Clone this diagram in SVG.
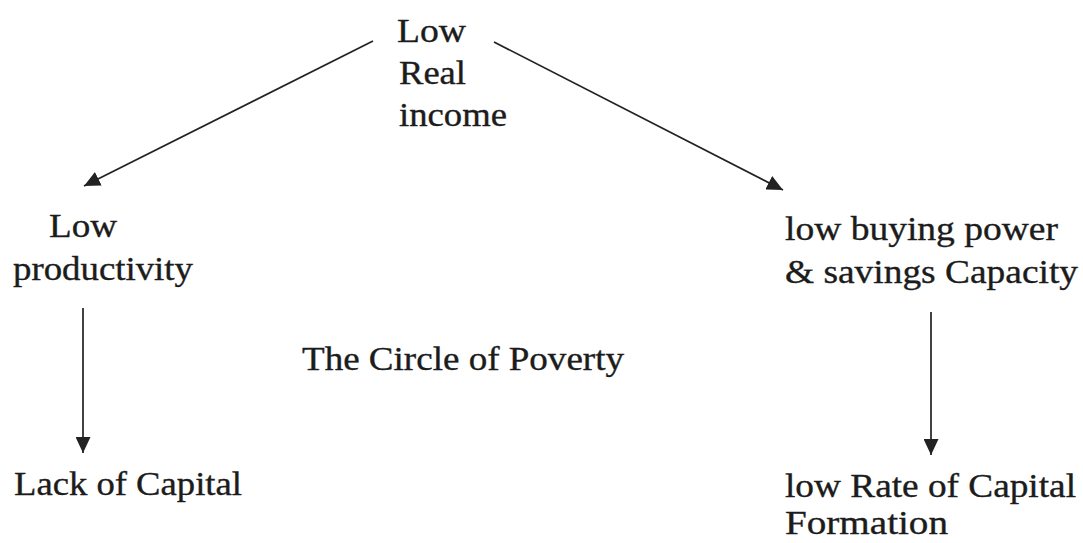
<svg xmlns="http://www.w3.org/2000/svg" width="1083" height="543" viewBox="0 0 1083 543">
  <defs>
    <style>
      .lbl { font-family: "Liberation Serif", "Times New Roman", serif; font-size: 33px; fill: #1c1c1c; stroke: #1c1c1c; stroke-width: 0.35px; }
      .edge { stroke: #222; stroke-width: 1.7; fill: none; marker-end: url(#head); }
    </style>
    <!-- filled triangular arrowhead, tip at the line end -->
    <marker id="head" markerUnits="userSpaceOnUse" markerWidth="17" markerHeight="15" refX="16" refY="7.5" orient="auto">
      <path d="M0,0 L16,7.5 L0,15 z" fill="#222"/>
    </marker>
  </defs>
  <rect width="1083" height="543" fill="#fff"/>

  <g id="connectors">
    <line class="edge" x1="373" y1="41" x2="84" y2="186"/>
    <line class="edge" x1="494" y1="42" x2="783" y2="190"/>
    <line class="edge" x1="83" y1="308" x2="83" y2="453"/>
    <line class="edge" x1="931" y1="312" x2="931" y2="455"/>
  </g>

  <g id="low-real-income">
    <text class="lbl" x="397" y="42" textLength="69" lengthAdjust="spacingAndGlyphs">Low</text>
    <text class="lbl" x="399" y="84" textLength="67" lengthAdjust="spacingAndGlyphs">Real</text>
    <text class="lbl" x="399" y="126" textLength="108" lengthAdjust="spacingAndGlyphs">income</text>
  </g>

  <g id="low-productivity">
    <text class="lbl" x="49" y="237" textLength="68" lengthAdjust="spacingAndGlyphs">Low</text>
    <text class="lbl" x="13" y="280" textLength="180" lengthAdjust="spacingAndGlyphs">productivity</text>
  </g>

  <g id="low-buying-power">
    <text class="lbl" x="785" y="240" textLength="273" lengthAdjust="spacingAndGlyphs">low buying power</text>
    <text class="lbl" x="785" y="283" textLength="293" lengthAdjust="spacingAndGlyphs">&amp; savings Capacity</text>
  </g>

  <g id="title">
    <text class="lbl" x="302" y="370" textLength="322" lengthAdjust="spacingAndGlyphs">The Circle of Poverty</text>
  </g>

  <g id="lack-of-capital">
    <text class="lbl" x="14" y="495" textLength="228" lengthAdjust="spacingAndGlyphs">Lack of Capital</text>
  </g>

  <g id="low-capital-formation">
    <text class="lbl" x="785" y="497" textLength="291" lengthAdjust="spacingAndGlyphs">low Rate of Capital</text>
    <text class="lbl" x="785" y="534" textLength="163" lengthAdjust="spacingAndGlyphs">Formation</text>
  </g>
</svg>
